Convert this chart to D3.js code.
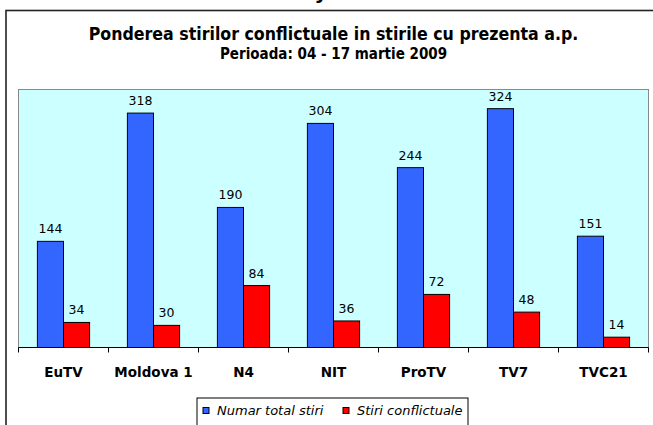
<!DOCTYPE html>
<html>
<head>
<meta charset="utf-8">
<script src="https://cdn.jsdelivr.net/npm/d3@7"></script>
<style>
  body { margin: 0; background: #fff; }
  svg { display: block; }
</style>
</head>
<body>
<div id="chart"></div>
<script>
// Chart data
const categories = ["EuTV", "Moldova 1", "N4", "NIT", "ProTV", "TV7", "TVC21"];
const seriesNames = ["Numar total stiri", "Stiri conflictuale"];
const totalStiri = [144, 318, 190, 304, 244, 324, 151];
const stiriConflictuale = [34, 30, 84, 36, 72, 48, 14];
const seriesColors = ["#3366FF", "#FF0000"];
const yDomain = [0, 350];

const titleText = "Ponderea stirilor conflictuale in stirile cu prezenta a.p.";
const subtitleText = "Perioada: 04 - 17 martie 2009";

const width = 653, height = 425;
const plot = { left: 18.5, right: 648.5, top: 89.5, bottom: 347.5 };

const svg = d3.select("#chart").append("svg")
  .attr("width", width)
  .attr("height", height);

// Fragment of the text above the frame (cut off at the top)
svg.append("text")
  .attr("x", 321)
  .attr("y", -1)
  .attr("text-anchor", "middle")
  .style("font-family", "DejaVu Sans")
  .style("font-weight", "bold")
  .style("font-size", "20px")
  .text("y");

// Outer frame (extends beyond the window on the right and bottom)
svg.append("rect")
  .attr("x", 6)
  .attr("y", 10.5)
  .attr("width", 700)
  .attr("height", 500)
  .attr("fill", "#fff")
  .attr("stroke", "#222")
  .attr("stroke-width", 1.6);

// Titles
const cx = (plot.left + plot.right) / 2;
svg.append("text")
  .attr("x", cx)
  .attr("y", 40)
  .attr("text-anchor", "middle")
  .style("font-family", "DejaVu Sans Condensed, DejaVu Sans")
  .style("font-stretch", "condensed")
  .style("font-weight", "bold")
  .style("font-size", "17.6px")
  .text(titleText);

svg.append("text")
  .attr("x", cx)
  .attr("y", 58.5)
  .attr("text-anchor", "middle")
  .style("font-family", "DejaVu Sans Condensed, DejaVu Sans")
  .style("font-stretch", "condensed")
  .style("font-weight", "bold")
  .style("font-size", "15px")
  .text(subtitleText);

// Scales
const x = d3.scaleBand()
  .domain(categories)
  .range([plot.left, plot.right])
  .padding(0);

const inner = d3.scaleBand()
  .domain(seriesNames)
  .range([x.bandwidth() * 0.21, x.bandwidth() * 0.79]);

const y = d3.scaleLinear()
  .domain(yDomain)
  .range([plot.bottom, plot.top]);

// Plot area background
svg.append("rect")
  .attr("x", plot.left)
  .attr("y", plot.top)
  .attr("width", plot.right - plot.left)
  .attr("height", plot.bottom - plot.top)
  .attr("fill", "#CCFFFF")
  .attr("stroke", "#888")
  .attr("stroke-width", 1);

// Bars
const rows = categories.map((c, i) => ({
  category: c,
  values: [totalStiri[i], stiriConflictuale[i]]
}));

const groups = svg.append("g")
  .selectAll("g")
  .data(rows)
  .enter().append("g")
  .attr("transform", d => "translate(" + x(d.category) + ",0)");

groups.selectAll("rect")
  .data(d => d.values.map((v, j) => ({ name: seriesNames[j], value: v, color: seriesColors[j] })))
  .enter().append("rect")
  .attr("x", d => inner(d.name))
  .attr("y", d => y(d.value))
  .attr("width", inner.bandwidth())
  .attr("height", d => y(0) - y(d.value))
  .attr("fill", d => d.color)
  .attr("stroke", "#000")
  .attr("stroke-width", 1);

// Value labels
groups.selectAll("text")
  .data(d => d.values.map((v, j) => ({ name: seriesNames[j], value: v })))
  .enter().append("text")
  .attr("x", d => inner(d.name) + inner.bandwidth() / 2)
  .attr("y", d => y(d.value) - 8)
  .attr("text-anchor", "middle")
  .style("font-family", "DejaVu Sans")
  .style("font-size", "12.5px")
  .style("fill", "#000")
  .text(d => d.value);

// X axis with ticks between categories
const xAxis = svg.append("g")
  .attr("transform", "translate(0," + plot.bottom + ")");

xAxis.append("line")
  .attr("x1", plot.left)
  .attr("x2", plot.right)
  .attr("stroke", "#000");

xAxis.selectAll("line.tick")
  .data(categories.concat([null]))
  .enter().append("line")
  .attr("class", "tick")
  .attr("x1", (d, i) => plot.left + i * x.step())
  .attr("x2", (d, i) => plot.left + i * x.step())
  .attr("y1", 0)
  .attr("y2", 5)
  .attr("stroke", "#000");

xAxis.selectAll("text")
  .data(categories)
  .enter().append("text")
  .attr("x", d => x(d) + x.bandwidth() / 2)
  .attr("y", 29)
  .attr("text-anchor", "middle")
  .style("font-family", "DejaVu Sans")
  .style("font-weight", "bold")
  .style("font-size", "13.5px")
  .text(d => d);

// Legend
const legend = svg.append("g");
legend.append("rect")
  .attr("x", 197)
  .attr("y", 398)
  .attr("width", 271)
  .attr("height", 40)
  .attr("fill", "#fff")
  .attr("stroke", "#000")
  .attr("stroke-width", 1);

const legendX = [203, 343];
const legendItems = legend.selectAll("g")
  .data(seriesNames)
  .enter().append("g")
  .attr("transform", (d, i) => "translate(" + legendX[i] + ",407.5)");

legendItems.append("rect")
  .attr("width", 6)
  .attr("height", 6)
  .attr("fill", (d, i) => seriesColors[i])
  .attr("stroke", "#000")
  .attr("stroke-width", 1);

legendItems.append("text")
  .attr("x", 14)
  .attr("y", 7)
  .style("font-family", "DejaVu Sans")
  .style("font-style", "italic")
  .style("font-size", "13px")
  .text(d => d);
</script>
</body>
</html>
